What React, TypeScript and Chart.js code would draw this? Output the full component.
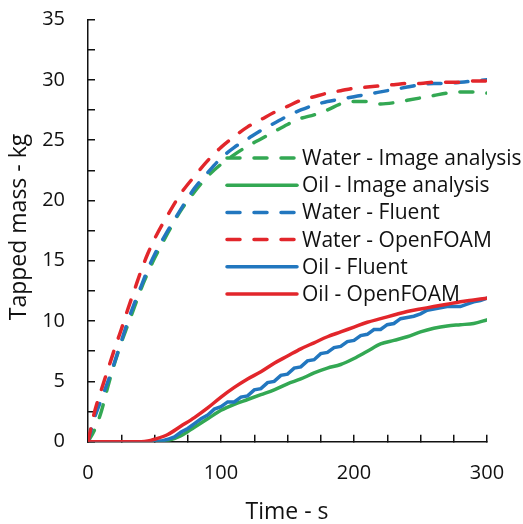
import React, { useEffect, useRef } from 'react';
import { Chart, registerables } from 'chart.js';

Chart.register(...registerables);

const FONT = '"Open Sans", sans-serif';

// ---- data ----
const waterTime = [0, 5, 10, 15, 20, 25, 30, 35, 40, 45, 50, 60, 70, 80, 90, 100, 110, 120, 130, 140, 150, 160, 170, 180, 190, 200, 210, 220, 230, 240, 250, 260, 270, 280, 290, 300];
const waterImage = [0, 1.0, 2.5, 4.6, 6.5, 8.2, 9.7, 11.2, 12.7, 14.0, 15.2, 17.3, 19.2, 20.7, 22.0, 23.0, 23.8, 24.5, 25.1, 25.7, 26.3, 26.8, 27.1, 27.5, 28.0, 28.2, 28.2, 28.0, 28.1, 28.3, 28.5, 28.7, 28.9, 29.0, 29.0, 28.9];
const waterFluent = [0, 2.0, 3.5, 5.0, 6.6, 8.3, 10.0, 11.5, 12.9, 14.3, 15.5, 17.5, 19.3, 21.0, 22.3, 23.5, 24.4, 25.1, 25.8, 26.4, 27.0, 27.5, 27.9, 28.2, 28.4, 28.6, 28.8, 29.0, 29.2, 29.4, 29.6, 29.7, 29.7, 29.8, 29.9, 30.0];
const waterOpenFOAM = [0, 2.5, 4.3, 6.0, 7.7, 9.3, 11.0, 12.6, 14.2, 15.6, 16.8, 18.8, 20.6, 22.0, 23.3, 24.4, 25.3, 26.1, 26.7, 27.3, 27.8, 28.3, 28.6, 28.9, 29.1, 29.3, 29.4, 29.5, 29.6, 29.7, 29.7, 29.8, 29.8, 29.8, 29.9, 29.9];

const oilTime = [0, 10, 20, 30, 40, 45, 50, 60, 70, 80, 90, 100, 110, 120, 130, 140, 150, 160, 170, 180, 190, 200, 210, 220, 230, 240, 250, 260, 270, 280, 290, 300];
const oilImage = [0, 0, 0, 0, 0, 0, 0, 0.1, 0.5, 1.2, 1.9, 2.6, 3.1, 3.5, 3.9, 4.3, 4.8, 5.2, 5.7, 6.1, 6.4, 6.9, 7.5, 8.1, 8.4, 8.7, 9.1, 9.4, 9.6, 9.7, 9.8, 10.1];
const oilOpenFOAM = [0, 0, 0, 0, 0, 0.05, 0.2, 0.6, 1.3, 2.0, 2.8, 3.7, 4.5, 5.2, 5.8, 6.5, 7.1, 7.7, 8.2, 8.7, 9.1, 9.5, 9.9, 10.2, 10.5, 10.8, 11.0, 11.2, 11.4, 11.6, 11.75, 11.9];

const oilFluentTime = [0, 10, 20, 30, 40, 50, 55, 60, 65, 70, 75, 80, 85, 90, 95, 100, 105, 110, 115, 120, 125, 130, 135, 140, 145, 150, 155, 160, 165, 170, 175, 180, 185, 190, 195, 200, 205, 210, 215, 220, 225, 230, 235, 240, 245, 250, 255, 260, 265, 270, 275, 280, 285, 290, 295, 300];
const oilFluent = [0, 0, 0, 0, 0, 0, 0.05, 0.2, 0.4, 0.8, 1.1, 1.5, 1.9, 2.2, 2.7, 2.9, 3.3, 3.3, 3.7, 3.8, 4.3, 4.4, 4.9, 5.0, 5.5, 5.6, 6.1, 6.2, 6.7, 6.8, 7.3, 7.4, 7.8, 7.9, 8.3, 8.4, 8.8, 8.9, 9.3, 9.3, 9.7, 9.8, 10.2, 10.3, 10.4, 10.6, 10.9, 11.0, 11.1, 11.2, 11.2, 11.2, 11.4, 11.6, 11.7, 11.9];

const labels = ['Water - Image analysis', 'Oil - Image analysis', 'Water - Fluent', 'Water - OpenFOAM', 'Oil - Fluent', 'Oil - OpenFOAM'];
const xTitle = 'Time - s';
const yTitle = 'Tapped mass - kg';

const GREEN = '#33a853';
const BLUE = '#2277bf';
const RED = '#e2262b';
const DASH = [13, 14];

const pts = (t: number[], v: number[]) => t.map((x, i) => ({ x, y: v[i] }));

const legendPlugin = {
  id: 'customLegend',
  afterDraw(chart: any) {
    const ctx = chart.ctx;
    const x0 = 227, x1 = 297, tx = 302;
    const y0 = 158, dy = 27.2;
    ctx.save();
    chart.data.datasets.forEach((ds: any, i: number) => {
      const y = y0 + i * dy;
      ctx.beginPath();
      ctx.strokeStyle = ds.borderColor;
      ctx.lineWidth = ds.borderWidth;
      ctx.lineCap = 'round';
      ctx.setLineDash(ds.borderDash || []);
      ctx.moveTo(x0, y);
      ctx.lineTo(x1, y);
      ctx.stroke();
      ctx.setLineDash([]);
      ctx.fillStyle = '#111';
      ctx.font = `21px ${FONT}`;
      ctx.textAlign = 'left';
      ctx.textBaseline = 'middle';
      ctx.fillText(ds.label, tx, y + 1);
    });
    // axis titles
    ctx.fillStyle = '#111';
    ctx.font = `23px ${FONT}`;
    ctx.textAlign = 'center';
    ctx.textBaseline = 'alphabetic';
    ctx.fillText(xTitle, 287, 519);
    ctx.translate(26, 227);
    ctx.rotate(-Math.PI / 2);
    ctx.font = `23px ${FONT}`;
    ctx.fillText(yTitle, 0, 0);
    ctx.restore();
  },
};

export default function App() {
  const ref = useRef<HTMLCanvasElement>(null);
  useEffect(() => {
    document.body.style.margin = '0';
    const mk = (label: string, t: number[], v: number[], color: string, dashed: boolean, order: number, tension: number) => ({
      label,
      data: pts(t, v),
      borderColor: color,
      backgroundColor: color,
      borderWidth: 3.5,
      borderDash: dashed ? DASH : [],
      borderCapStyle: 'round' as const,
      pointRadius: 0,
      tension,
      cubicInterpolationMode: tension > 0 ? ('monotone' as const) : ('default' as const),
      fill: false,
      order,
    });
    const chart = new Chart(ref.current!, {
      type: 'line',
      data: {
        datasets: [
          mk(labels[0], waterTime, waterImage, GREEN, true, 5, 0.4),
          mk(labels[1], oilTime, oilImage, GREEN, false, 4, 0.4),
          mk(labels[2], waterTime, waterFluent, BLUE, true, 3, 0.4),
          mk(labels[3], waterTime, waterOpenFOAM, RED, true, 1, 0.4),
          mk(labels[4], oilFluentTime, oilFluent, BLUE, false, 2, 0),
          mk(labels[5], oilTime, oilOpenFOAM, RED, false, 0, 0.4),
        ],
      },
      options: {
        responsive: false,
        animation: false,
        devicePixelRatio: 1,
        layout: { padding: { top: 19.5, right: 36, left: 0, bottom: 0 } },
        plugins: { legend: { display: false }, tooltip: { enabled: false } },
        scales: {
          x: {
            type: 'linear',
            min: 0,
            max: 300,
            ticks: {
              stepSize: 25,
              autoSkip: false,
              maxRotation: 0,
              color: '#111',
              font: { size: 20, family: FONT },
              padding: 27,
              callback: (v: any) => (Number(v) % 100 === 0 ? String(v) : ''),
            },
            grid: { display: true, drawOnChartArea: false, drawTicks: true, tickLength: -7, color: '#111', lineWidth: 1.5 },
            border: { display: true, color: '#111', width: 1.5 },
            afterFit: (s: any) => { s.height = 82.3; s.paddingLeft = 0; s.paddingRight = 0; },
          },
          y: {
            type: 'linear',
            min: 0,
            max: 35,
            ticks: {
              stepSize: 2.5,
              autoSkip: false,
              color: '#111',
              font: { size: 20, family: FONT },
              padding: 30,
              callback: (v: any) => (Number(v) % 5 === 0 ? String(v) : ''),
            },
            grid: { display: true, drawOnChartArea: false, drawTicks: true, tickLength: -7, color: '#111', lineWidth: 1.5 },
            border: { display: true, color: '#111', width: 1.5 },
            afterFit: (s: any) => { s.width = 88; s.paddingTop = 0; s.paddingBottom = 0; },
          },
        },
      },
      plugins: [legendPlugin],
    } as any);
    return () => chart.destroy();
  }, []);
  return (
    <div style={{ width: 523, height: 524 }}>
      <canvas ref={ref} width={523} height={524} style={{ display: 'block', width: 523, height: 524 }} />
    </div>
  );
}
